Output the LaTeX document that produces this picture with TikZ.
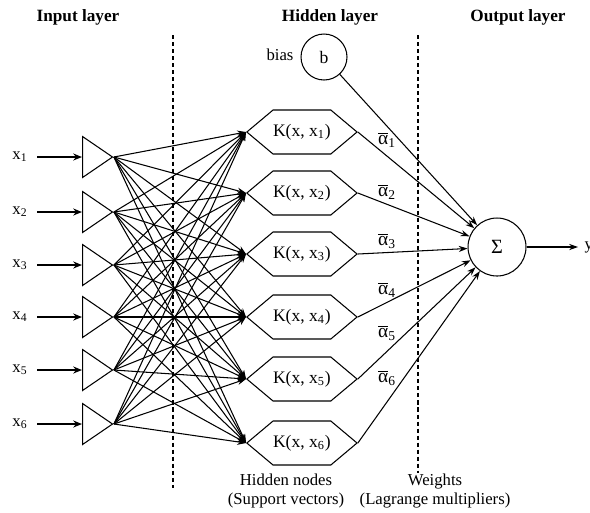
\documentclass[tikz,border=0pt]{standalone}
\usepackage{fontspec}
\setmainfont{Liberation Serif}
\usetikzlibrary{arrows.meta,positioning,shapes.geometric,shapes.symbols}

\begin{document}
\begin{tikzpicture}[x=0.02cm, y=-0.02cm, font=\fontsize{9.5}{11}\selectfont, line width=0.6pt,
  unit/.style={draw, isosceles triangle, isosceles triangle stretches, shape border rotate=0,
    minimum width=0.82cm, minimum height=0.6cm, inner sep=0pt},
  kern/.style={draw, signal, signal to=east and west, signal pointer angle=80,
    minimum width=2.2cm, minimum height=0.88cm, inner sep=0pt, font=\fontsize{10}{12}\selectfont},
  neuron/.style={draw, circle, inner sep=0pt},
  wire/.style={-{Stealth[length=5pt,width=3.5pt]}},
  feed/.style={-{Stealth[length=5pt,width=4pt]}, line width=1.1pt},
  sep/.style={line width=0.8pt, dash pattern=on 2.3pt off 1.7pt},
  title/.style={font=\fontsize{9.8}{11}\selectfont\bfseries}]
  \useasboundingbox (0,0) rectangle (590,512);
  % layer titles
  \node[title] (tin)  at (78,17)  {Input layer};
  \node[title] (thid) at (330,17) {Hidden layer};
  \node[title] (tout) at (518,17) {Output layer};
  % separators
  \draw[sep] (173,35) -- (173,488);
  \draw[sep] (418,35) -- (418,473);
  % input layer
  \foreach \i/\yy in {1/157,2/212,3/265,4/317,5/370,6/424}{
    \node (x\i) at (20,\yy) {x\textsubscript{\i}};
    \node[unit, anchor=west] (t\i) at (82,\yy) {};
    \draw[feed, shorten <=2pt] (x\i) -- (t\i.west);
  }
  % hidden layer
  \foreach \i/\yy in {1/132,2/193,3/254,4/317,5/379,6/443}
    \node[kern, anchor=west] (k\i) at (246,\yy) {K(x, x\textsubscript{\i})};
  \foreach \i in {1,...,6}
    \foreach \j in {1,...,6}
      \draw[wire] (t\i.apex) -- (k\j.west);
  % bias and output
  \node[neuron, minimum size=0.92cm, font=\fontsize{10}{12}\selectfont] (b) at (324,57) {b};
  \node (bl) at (280,55) {bias};
  \node[neuron, minimum size=1.16cm, font=\fontsize{11.5}{13}\selectfont] (sum) at (497,247) {Σ};
  \coordinate (yout) at (578,247);
  \node[anchor=west, inner sep=0pt] (ylab) at (584,247) {y};
  \draw[wire] (sum) -- (yout);
  \draw[wire] (b) -- (sum);
  \foreach \i in {1,...,6}
    \draw[wire] (k\i.east) -- (sum);
  % weights
  \foreach \i/\yy in {1/140,2/192,3/241,4/290,5/333,6/378}
    \node[font=\fontsize{11}{12}\selectfont] (a\i) at (387,\yy) {$\overline{\hbox{α}}$\textsubscript{\i}};
  % captions
  \node[align=center] (hn) at (286,491) {Hidden nodes\\(Support vectors)};
  \node[align=center] (wt) at (435,491) {Weights\\(Lagrange multipliers)};
\end{tikzpicture}
\end{document}
